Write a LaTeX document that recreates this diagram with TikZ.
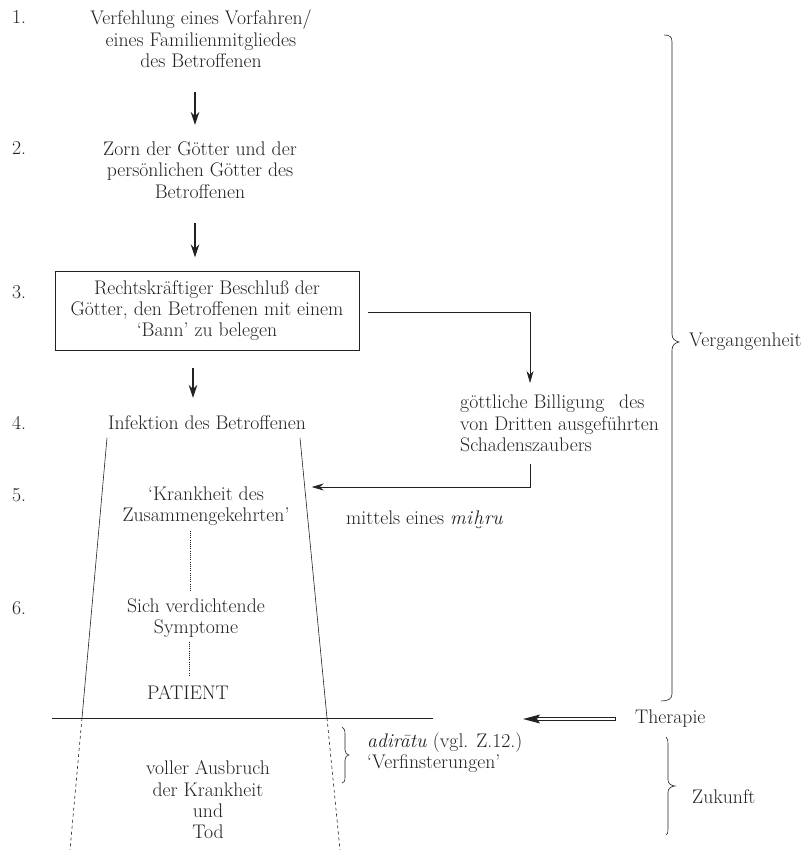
\documentclass[tikz,border=0pt]{standalone}
\usetikzlibrary{arrows.meta,calc}
\definecolor{ink}{gray}{0.13}
\begin{document}
\begin{tikzpicture}[x=1pt,y=-1pt,
  every node/.style={font=\fontsize{19.7}{21.3}\selectfont, text=ink, inner sep=0pt},
  txt/.style={align=center},
  num/.style={anchor=west},
  line/.style={draw=ink, line width=0.6pt},
  bigarr/.style={draw=ink, line width=1.4pt, -{Stealth[length=13pt,width=8.5pt]}},
  conn/.style={draw=ink, line width=0.7pt, -{Stealth[length=12pt,width=7pt]}},
  dots/.style={draw=ink, line width=1pt, dash pattern=on 0.8pt off 1.4pt},
  dashline/.style={draw=ink, line width=0.6pt, dash pattern=on 3pt off 3pt},
  brc/.style={draw=ink, line width=0.6pt}]
\useasboundingbox (0,0) rectangle (804,850);

% row numbers
\node[num] (k1) at (12,17) {1.};
\node[num] (k2) at (12,148) {2.};
\node[num] (k3) at (12,292) {3.};
\node[num] (k4) at (12,423) {4.};
\node[num] (k5) at (12,495) {5.};
\node[num] (k6) at (12,608) {6.};

% main column
\node[txt] (n1) at (201,39) {Verfehlung eines Vorfahren/\\eines Familienmitgliedes\\des Betroffenen};
\node[txt] (n2) at (200,170) {Zorn der Götter und der\\persönlichen Götter des\\Betroffenen};
\node[txt, draw=ink, line width=0.6pt, minimum width=304pt, minimum height=79pt] (n3) at (207,310.5)
  {Rechtskräftiger Beschluß der\\Götter, den Betroffenen mit einem\\‘Bann’ zu belegen};
\node[txt] (n4) at (207,423) {Infektion des Betroffenen};
\node[txt] (n5) at (206,506) {‘Krankheit des\\Zusammengekehrten’};
\node[txt] (n6) at (196,618) {Sich verdichtende\\Symptome};
\node (pat) at (188,693) {PATIENT};
\node[txt] (n8) at (208,800) {voller Ausbruch\\der Krankheit\\und\\Tod};

% side branch
\node[align=left, anchor=north west] (n7) at (460,395)
  {göttliche Billigung \hskip0.45em des\\von Dritten ausgeführten\\Schadenszaubers};
\node[anchor=base west] (mit) at (346,524) {mittels eines \textit{mi}};
\node[anchor=base west] (mh) at (mit.base east) {\textit{h}};
\node[anchor=base west] (mr) at (mh.base east) {\textit{ru}};
\draw[draw=ink, line width=0.55pt] ($(mh.base)+(-2.4,2.2)$) .. controls +(0.4,2.4) and +(-0.4,2.4) .. ($(mh.base)+(2.6,2.2)$);

% right labels
\node[anchor=west] (verg) at (689,342) {Vergangenheit};
\node[anchor=west] (ther) at (635,719) {Therapie};
\node[anchor=west] (zuk) at (692,797) {Zukunft};
\node[anchor=west, align=left] (adi) at (367,752.5) {\textit{adirātu} (vgl. Z.12.)\\‘Verfinsterungen’};

% trapezoid
\coordinate (tl) at (107,438);
\coordinate (tr) at (300,438);
\coordinate (bl) at (82,718);
\coordinate (br) at (327,718);
\draw[line] (tl) -- (bl);
\draw[line] (tr) -- (br);
\draw[dashline] (bl) -- (70,850);
\draw[dashline] (br) -- (340,850);
\draw[line] (52,718) -- (433,718);
\coordinate (m5) at ($(tr)!0.175!(br)+(7,0)$);

% vertical arrows
\draw[bigarr, shorten <=53pt, shorten >=45pt] ([xshift=-6pt]n1.center) -- ([xshift=-5pt]n2.center);
\draw[bigarr, shorten <=53pt, shorten >=53pt] ([xshift=-5pt]n2.center) -- ([xshift=-12pt]n3.center);
\draw[bigarr, shorten <=18pt, shorten >=25pt] ([xshift=-14pt]n3.south) -- ([xshift=-14pt]n4.center);

% branch connectors
\draw[conn] ($(n3.east)+(9,1.5)$) -| ($(n7.north west)+(70,-12)$);
\draw[conn] ($(n7.south west)+(70,12)$) |- (m5);

% dotted links
\draw[dots, shorten <=5pt, shorten >=8pt] ([xshift=2pt]n5.south -| pat) -- ([xshift=2pt]n6.north -| pat);
\draw[dots, shorten <=4pt, shorten >=9pt] ([xshift=1pt]n6.south -| pat) -- ([xshift=1pt]pat.north);

% therapy arrow
\draw[draw=ink, line width=0.7pt] ($(ther.west)+(-100,-1.8)$) rectangle ($(ther.west)+(-20,1.8)$);
\fill[ink] ($(ther.west)+(-112,0)$) -- ++(17,-4.5) -- ++(-3,4.5) -- ++(3,4.5) -- cycle;

% big brace Vergangenheit
\draw[brc] (664,35) .. controls (670,35) and (672,37) .. (672,42) -- (672,334)
  .. controls (672,339) and (675,341) .. (679,342)
  .. controls (675,343) and (672,345) .. (672,350) -- (672,694)
  .. controls (672,699) and (668,701) .. (661,701);

% brace adiratu
\draw[brc] (342,727) .. controls (344,728) and (345,730) .. (345,734) -- (345,750)
  .. controls (345,753) and (347,755) .. (349,755)
  .. controls (347,755) and (345,757) .. (345,760) -- (345,777)
  .. controls (345,781) and (344,783) .. (342,783);

% brace Zukunft
\draw[brc] (666,737) .. controls (667,738) and (668,740) .. (668,744) -- (668,780)
  .. controls (668,783) and (671,786) .. (675,786)
  .. controls (671,786) and (668,789) .. (668,792) -- (668,829)
  .. controls (668,833) and (667,835) .. (666,835);
\end{tikzpicture}
\end{document}
